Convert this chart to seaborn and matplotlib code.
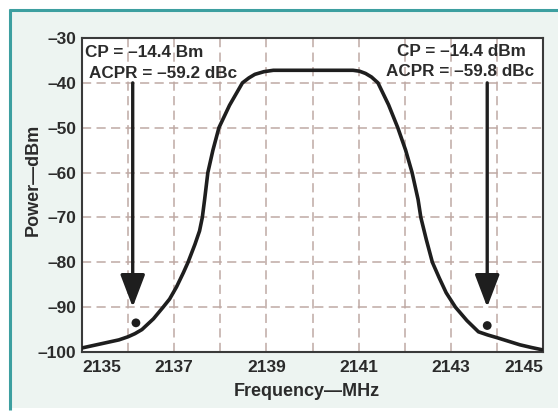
import matplotlib
matplotlib.use("Agg")
import matplotlib.pyplot as plt
import matplotlib.patches as mpatches
import seaborn as sns
import pandas as pd

# ---- data ----
freq_mhz = [2135.0, 2135.4, 2135.8, 2136.0, 2136.15, 2136.3, 2136.55, 2136.76,
            2136.9, 2137.05, 2137.2, 2137.3, 2137.45, 2137.55, 2137.61, 2137.66,
            2137.73, 2137.84, 2137.97, 2138.2, 2138.48, 2138.62, 2138.75, 2138.95,
            2139.15, 2139.5, 2140.0, 2140.5, 2140.88, 2141.02, 2141.15, 2141.28,
            2141.42, 2141.65, 2141.85, 2142.02, 2142.16, 2142.29, 2142.35, 2142.47,
            2142.6, 2142.75, 2142.9, 2143.1, 2143.35, 2143.6, 2143.8, 2144.0,
            2144.25, 2144.5, 2144.75, 2144.98]
power_dbm = [-99.1, -98.2, -97.3, -96.6, -95.9, -95.0, -92.6, -90.0,
             -88.2, -85.5, -82.3, -80.0, -76.0, -73.0, -70.0, -66.0,
             -60.0, -55.0, -50.0, -45.0, -40.0, -38.9, -38.1, -37.5,
             -37.2, -37.2, -37.2, -37.2, -37.2, -37.4, -37.9, -38.7,
             -40.0, -44.9, -50.0, -55.0, -60.0, -66.0, -70.0, -75.0,
             -80.0, -83.5, -86.8, -90.0, -93.0, -95.5, -96.2, -96.8,
             -97.6, -98.4, -99.0, -99.5]

marker_freq = [2136.17, 2143.79]
marker_power = [-93.5, -94.1]

arrow_freq = [2136.1, 2143.79]
arrow_start = [-40.0, -40.0]
arrow_end = [-90.0, -90.0]

left_labels = ["CP = \u201314.4 Bm", "ACPR = \u201359.2 dBc"]
right_labels = ["CP = \u201314.4 dBm", "ACPR = \u201359.8 dBc"]

x_ticks = [2135, 2137, 2139, 2141, 2143, 2145]
y_ticks = [-30, -40, -50, -60, -70, -80, -90, -100]

x_label = "Frequency\u2014MHz"
y_label = "Power\u2014dBm"

# ---- style ----
sns.set_theme(style="white")
plt.rcParams['font.family'] = ['Liberation Sans', 'DejaVu Sans']
plt.rcParams['font.weight'] = 'bold'

TXT = "#2b2b2b"
fig = plt.figure(figsize=(5.58, 4.18), dpi=100)
fig.patch.set_facecolor("white")
W, H = 558.0, 418.0

# background panel drawn in its own axes below the chart
bg = fig.add_axes([0, 0, 1, 1], zorder=-5)
bg.set_xlim(0, W)
bg.set_ylim(H, 0)
bg.axis("off")
bg.add_patch(mpatches.Rectangle((9, 9), W, 408 - 9, facecolor="#edf4f1",
                                edgecolor="none"))
bg.plot([9, W], [10, 10], color="#3d9fa0", lw=2.2, solid_capstyle="butt")
bg.plot([10, 10], [9, 410], color="#3d9fa0", lw=2.2, solid_capstyle="butt")

ax = fig.add_axes([82 / W, 1 - 352 / H, (543 - 82) / W, (352 - 38) / H],
                  zorder=1)
ax.set_facecolor("white")

df = pd.DataFrame({"f": freq_mhz, "p": power_dbm})
sns.lineplot(data=df, x="f", y="p", ax=ax, color="#1e1e1e", lw=2.6,
             sort=False, zorder=4)
sns.scatterplot(x=marker_freq, y=marker_power, ax=ax, color="#1e1e1e",
                s=40, edgecolor="none", zorder=5)

for xf, y0, y1 in zip(arrow_freq, arrow_start, arrow_end):
    ax.annotate("", xy=(xf, y1), xytext=(xf, y0),
                arrowprops=dict(arrowstyle="-|>,head_length=1.0,head_width=0.38",
                                mutation_scale=20, color="#1e1e1e", lw=2.4,
                                shrinkA=0, shrinkB=0), zorder=5)

ax.set_xlim(2135, 2145)
ax.set_ylim(-100, -30)
ax.set_xticks(range(2135, 2146), minor=True)
ax.set_xticks(x_ticks)
ax.set_yticks(y_ticks)
ax.set_xticklabels([str(t) for t in x_ticks])
ax.set_yticklabels([f"\u2013{abs(t)}" for t in y_ticks])

ax.grid(True, which="both", axis="x", color="#bfa9a4", lw=1.1,
        linestyle=(0, (6, 3.5)))
ax.grid(True, which="major", axis="y", color="#bfa9a4", lw=1.1,
        linestyle=(0, (6, 3.5)))
ax.set_axisbelow(True)

ax.tick_params(axis="both", which="both", length=0, labelsize=12.5,
               labelcolor=TXT)
ax.tick_params(axis="x", pad=6)
ax.tick_params(axis="y", pad=4)
xl = ax.get_xticklabels()
xl[0].set_horizontalalignment("left")
xl[-1].set_horizontalalignment("right")

for sp in ax.spines.values():
    sp.set_color("#3a3a3a")
    sp.set_linewidth(1.5)

ax.set_xlabel(x_label, fontsize=13, fontweight="bold", color=TXT)
ax.set_ylabel(y_label, fontsize=13, fontweight="bold", color=TXT)
ax.xaxis.set_label_coords(0.487, -0.10)
ax.yaxis.set_label_coords(-0.087, 0.548)

ax.text(2136.35, -33.2, left_labels[0], ha="center", va="center",
        fontsize=12.3, fontweight="bold", color=TXT, zorder=6)
ax.text(2136.76, -37.9, left_labels[1], ha="center", va="center",
        fontsize=12.3, fontweight="bold", color=TXT, zorder=6)
ax.text(2143.22, -33.1, right_labels[0], ha="center", va="center",
        fontsize=12.3, fontweight="bold", color=TXT, zorder=6)
ax.text(2143.2, -37.4, right_labels[1], ha="center", va="center",
        fontsize=12.3, fontweight="bold", color=TXT, zorder=6)

fig.savefig("out.png", dpi=100)
